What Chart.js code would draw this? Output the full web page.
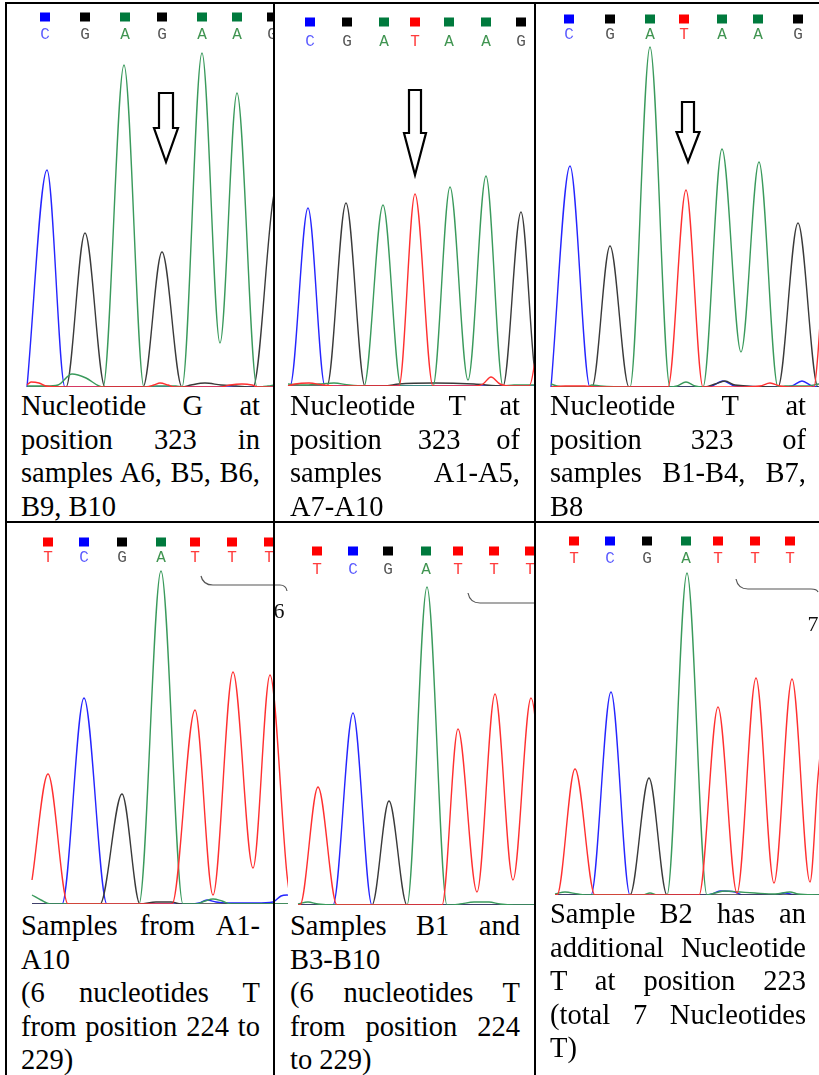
<!DOCTYPE html>
<html>
<head>
<meta charset="utf-8">
<script src="https://cdn.jsdelivr.net/npm/chart.js@4/dist/chart.umd.min.js"></script>
<style>
  html, body { margin: 0; padding: 0; background: #fff; }
  #page { position: relative; width: 819px; height: 1075px; overflow: hidden; }
  canvas { position: absolute; }
  .rule { position: absolute; background: #000; z-index: 3; }
  .cap { position: absolute; font-family: 'Liberation Serif', 'Times New Roman', serif; font-size: 28.5px; line-height: 33.5px; color: #000; z-index: 2; }
  .cap div { text-align: justify; text-align-last: justify; white-space: nowrap; }
  .cap div.end { text-align-last: left; }
</style>
</head>
<body>
<div id="page"></div>
<script>
// base calls (letters) and where they sit along the scan axis
const t1Calls = ['C', 'G', 'A', 'G', 'A', 'A', 'G'];
const t1CallPos = [39, 79, 119, 156, 196, 231, 266];
const t2Calls = ['C', 'G', 'A', 'T', 'A', 'A', 'G'];
const t2CallPos = [36, 73, 110, 141, 175, 212, 247];
const t3Calls = ['C', 'G', 'A', 'T', 'A', 'A', 'G'];
const t3CallPos = [34, 75, 115, 149, 187, 223, 263];
const b1Calls = ['T', 'C', 'G', 'A', 'T', 'T', 'T'];
const b1CallPos = [42, 78, 116, 155, 189, 226, 263];
const b2Calls = ['T', 'C', 'G', 'A', 'T', 'T', 'T'];
const b2CallPos = [43, 79, 114, 152, 184, 220, 256];
const b3Calls = ['T', 'C', 'G', 'A', 'T', 'T', 'T'];
const b3CallPos = [39, 75, 112, 151, 183, 220, 255];

// T-run lengths marked with a brace (samples A1-A10, B1/B3-B10, B2)
const tRunCounts = [6, 6, 7];

// traces: [scan, signal]
const t1A = [[21, 1], [40, 1], [52, 2], [66, 13], [80, 9], [93, 1], [97, 0], [118, 322], [138, 0], [150, 1], [170, 1], [176, 0], [196, 334], [214, 44], [231, 294], [251, 0], [262, 1], [268, 2]];
const t1C = [[21, 0], [41, 217], [59, 0], [120, 0], [268, 0]];
const t1G = [[21, 0], [60, 0], [79, 154], [99, 0], [137, 0], [156, 135], [176, 0], [185, 2], [199, 4], [215, 2], [230, 1], [247, 0], [267, 187], [280, 230]];
const t1T = [[21, 2], [25, 5], [33, 4], [40, 1], [60, 0], [140, 0], [148, 2], [154, 4], [162, 2], [168, 0], [215, 0], [224, 2], [236, 3], [246, 2], [252, 0], [268, 0]];

const t2A = [[14, 2], [30, 1], [45, 2], [60, 3], [75, 1], [90, 0], [109, 181], [127, 0], [159, 0], [176, 199], [194, 6], [212, 210], [229, 0], [240, 1], [261, 1]];
const t2C = [[14, 0], [16, 0], [34, 178], [51, 0], [70, 0], [200, 0], [261, 0]];
const t2G = [[14, 0], [53, 0], [72, 183], [91, 0], [110, 0], [125, 2], [160, 3], [200, 2], [229, 0], [247, 174], [261, 13], [267, 0]];
const t2T = [[14, 0], [21, 2], [35, 3], [49, 1], [60, 0], [125, 0], [141, 192], [159, 0], [200, 0], [209, 2], [217, 9], [226, 2], [235, 0], [255, 0], [261, 26], [270, 120]];

const t3A = [[16, 3], [22, 1], [40, 0], [52, 0], [57, 2], [65, 1], [95, 0], [115, 340], [135, 0], [142, 1], [151, 5], [160, 1], [168, 0], [187, 238], [206, 35], [224, 225], [243, 0], [250, 1], [270, 1], [284, 3]];
const t3C = [[16, 0], [35, 221], [55, 0], [170, 0], [177, 1], [188, 6], [200, 1], [250, 0], [257, 1], [267, 6], [277, 1], [284, 0]];
const t3G = [[16, 0], [57, 0], [75, 141], [94, 0], [170, 0], [180, 3], [190, 6], [200, 2], [243, 0], [263, 164], [283, 0], [290, 0]];
const t3T = [[16, 0], [30, 1], [50, 1], [60, 0], [133, 0], [151, 197], [168, 0], [200, 0], [225, 1], [235, 4], [245, 1], [255, 0], [279, 0], [283, 34], [290, 150]];

const b1A = [[26, 9], [35, 4], [44, 0], [133, 0], [155, 333], [177, 0], [190, 0], [199, 3], [207, 5], [216, 3], [225, 0], [284, 0]];
const b1C = [[26, 0], [56, 0], [78, 206], [101, 0], [150, 0], [185, 0], [193, 1], [201, 4], [210, 2], [220, 1], [250, 1], [267, 2], [275, 8], [281, 9], [290, 5]];
const b1G = [[26, 0], [94, 0], [116, 110], [134, 0], [150, 2], [165, 2], [175, 0], [284, 0]];
const b1T = [[26, 24], [42, 130], [62, 0], [100, 0], [166, 0], [189, 194], [207, 9], [227, 232], [247, 36], [264, 229], [281, 29], [285, 0]];

const b2A = [[24, 1], [34, 3], [44, 1], [60, 0], [133, 0], [153, 318], [173, 0], [186, 1], [200, 3], [215, 3], [226, 1], [240, 0], [261, 0]];
const b2C = [[24, 0], [59, 0], [79, 192], [98, 0], [140, 0], [261, 0]];
const b2G = [[24, 0], [98, 0], [115, 104], [133, 0], [261, 0]];
const b2T = [[24, 0], [26, 0], [44, 118], [63, 0], [100, 0], [168, 0], [184, 176], [203, 13], [221, 211], [239, 25], [257, 207], [275, 0]];

const b3A = [[20, 1], [30, 3], [43, 1], [55, 0], [108, 0], [115, 2], [122, 0], [132, 0], [152, 322], [172, 0], [180, 2], [190, 4], [205, 3], [220, 2], [240, 1], [255, 3], [263, 1], [284, 0]];
const b3C = [[20, 0], [56, 0], [76, 203], [95, 0], [170, 0], [177, 1], [185, 4], [200, 3], [207, 0], [240, 0], [250, 2], [260, 0], [284, 0]];
const b3G = [[20, 0], [95, 0], [114, 117], [132, 0], [284, 0]];
const b3T = [[20, 0], [22, 0], [40, 126], [60, 0], [100, 0], [164, 0], [183, 188], [202, 2], [221, 217], [239, 12], [257, 216], [275, 13], [283, 118], [293, 215]];

const traceColor = { A: '#3a9a5c', C: '#2525ff', G: '#3a3a3a', T: '#ff3030' };
const callFill = { A: '#007a3d', C: '#0000ff', G: '#000000', T: '#ff0000' };
const callText = { A: '#3f9450', C: '#5a5aff', G: '#555555', T: '#ff3c3c' };

const panels = [
  { left: 6, top: 4, width: 268, baseline: 387, chartTop: 45, squareY: 17, letterY: 35,
    calls: t1Calls, callPos: t1CallPos, traces: { A: t1A, C: t1C, G: t1G, T: t1T },
    arrow: { at: 160, top: 93, neck: 128, tip: 162, shaft: 7, head: 12 } },
  { left: 274, top: 4, width: 261, baseline: 386, chartTop: 45, squareY: 22, letterY: 42,
    calls: t2Calls, callPos: t2CallPos, traces: { A: t2A, C: t2C, G: t2G, T: t2T },
    arrow: { at: 141, top: 90, neck: 133, tip: 175, shaft: 6, head: 11 } },
  { left: 535, top: 4, width: 284, baseline: 387, chartTop: 45, squareY: 19, letterY: 35,
    calls: t3Calls, callPos: t3CallPos, traces: { A: t3A, C: t3C, G: t3G, T: t3T },
    arrow: { at: 153, top: 102, neck: 132, tip: 162, shaft: 6, head: 11.5 } },
  { left: 6, top: 523, width: 282, baseline: 904, chartTop: 565, squareY: 542, letterY: 558,
    calls: b1Calls, callPos: b1CallPos, traces: { A: b1A, C: b1C, G: b1G, T: b1T },
    brace: { from: 195, to: 281, top: 576, line: 585, end: 591, label: tRunCounts[0], labelAt: 273, labelY: 612 } },
  { left: 274, top: 523, width: 261, baseline: 905, chartTop: 565, squareY: 551, letterY: 570,
    calls: b2Calls, callPos: b2CallPos, traces: { A: b2A, C: b2C, G: b2G, T: b2T },
    brace: { from: 194, to: 282, top: 593, line: 603, end: 609, label: null } },
  { left: 535, top: 523, width: 284, baseline: 895, chartTop: 565, squareY: 541, letterY: 559,
    calls: b3Calls, callPos: b3CallPos, traces: { A: b3A, C: b3C, G: b3G, T: b3T },
    brace: { from: 201, to: 283, top: 579, line: 589, end: 592, label: tRunCounts[2], labelAt: 278, labelY: 625 } }
];

const captions = [
  { left: 21, top: 389, width: 239, lines: ['Nucleotide G at', 'position 323 in', 'samples A6, B5, B6,', '|B9, B10'] },
  { left: 290, top: 389, width: 230, lines: ['Nucleotide T at', 'position 323 of', 'samples A1-A5,', '|A7-A10'] },
  { left: 550, top: 389, width: 256, lines: ['Nucleotide T at', 'position 323 of', 'samples B1-B4, B7,', '|B8'] },
  { left: 21, top: 909, width: 239, lines: ['Samples from A1-', '|A10', '(6 nucleotides T', 'from position 224 to', '|229)'] },
  { left: 290, top: 909, width: 230, lines: ['Samples B1 and', '|B3-B10', '(6 nucleotides T', 'from position 224', '|to 229)'] },
  { left: 550, top: 897, width: 256, lines: ['Sample B2 has an', 'additional Nucleotide', 'T at position 223', '(total 7 Nucleotides', '|T)'] }
];

const page = document.getElementById('page');

function marks(p) {
  return {
    id: 'marks',
    afterDatasetsDraw(chart) {
      const ctx = chart.ctx;
      const xs = chart.scales.x;
      ctx.save();
      // base call squares and letters
      ctx.font = '16px "Liberation Mono", "Courier New", monospace';
      ctx.textAlign = 'center';
      ctx.textBaseline = 'middle';
      p.calls.forEach((b, i) => {
        const x = Math.round(xs.getPixelForValue(p.callPos[i]));
        ctx.fillStyle = callFill[b];
        ctx.fillRect(x - 5, p.squareY - p.top - 4.5, 10, 9);
        ctx.fillStyle = callText[b];
        ctx.fillText(b, x, p.letterY - p.top);
      });
      if (p.arrow) {
        const a = p.arrow;
        const x = xs.getPixelForValue(a.at);
        const y0 = a.top - p.top, y1 = a.neck - p.top, y2 = a.tip - p.top;
        ctx.beginPath();
        ctx.moveTo(x - a.shaft, y0);
        ctx.lineTo(x + a.shaft, y0);
        ctx.lineTo(x + a.shaft, y1);
        ctx.lineTo(x + a.head, y1);
        ctx.lineTo(x, y2);
        ctx.lineTo(x - a.head, y1);
        ctx.lineTo(x - a.shaft, y1);
        ctx.closePath();
        ctx.fillStyle = '#fff';
        ctx.fill();
        ctx.lineWidth = 2.2;
        ctx.lineJoin = 'miter';
        ctx.strokeStyle = '#000';
        ctx.stroke();
      }
      if (p.brace) {
        const br = p.brace;
        const x0 = xs.getPixelForValue(br.from), x1 = xs.getPixelForValue(br.to);
        const yt = br.top - p.top, yl = br.line - p.top, ye = br.end - p.top;
        ctx.beginPath();
        ctx.moveTo(x0, yt);
        ctx.quadraticCurveTo(x0 + 2, yl, x0 + 12, yl);
        ctx.lineTo(x1 - 7, yl);
        ctx.quadraticCurveTo(x1 - 1, yl, x1, ye);
        ctx.lineWidth = 1.2;
        ctx.strokeStyle = '#555';
        ctx.stroke();
        if (br.label !== null) {
          ctx.font = '22px "Liberation Serif", "Times New Roman", serif';
          ctx.fillStyle = '#111';
          ctx.fillText(String(br.label), xs.getPixelForValue(br.labelAt), br.labelY - p.top);
        }
      }
      ctx.restore();
    }
  };
}

panels.forEach(p => {
  const cv = document.createElement('canvas');
  const h = p.baseline + 2 - p.top;
  cv.width = p.width;
  cv.height = h;
  cv.style.left = p.left + 'px';
  cv.style.top = p.top + 'px';
  page.appendChild(cv);
  new Chart(cv, {
    type: 'line',
    data: {
      datasets: ['T', 'A', 'G', 'C'].map(b => ({
        label: b,
        data: p.traces[b],
        borderColor: traceColor[b],
        borderWidth: 1.4,
        pointRadius: 0,
        fill: false,
        cubicInterpolationMode: 'monotone'
      }))
    },
    options: {
      responsive: false,
      animation: false,
      events: [],
      layout: { padding: { top: p.chartTop - p.top, bottom: 2, left: 0, right: 0 } },
      scales: {
        x: { type: 'linear', display: false, min: 0, max: p.width },
        y: { display: false, min: 0, max: p.baseline - p.chartTop }
      },
      plugins: { legend: { display: false }, tooltip: { enabled: false } }
    },
    plugins: [marks(p)]
  });
});

captions.forEach(c => {
  const box = document.createElement('div');
  box.className = 'cap';
  box.style.left = c.left + 'px';
  box.style.top = c.top + 'px';
  box.style.width = c.width + 'px';
  c.lines.forEach(l => {
    const d = document.createElement('div');
    if (l[0] === '|') { d.className = 'end'; l = l.slice(1); }
    d.textContent = l;
    box.appendChild(d);
  });
  page.appendChild(box);
});

// table rules
[[5, 2, 814, 2], [5, 2, 2, 1073], [273, 2, 2, 1073], [534, 2, 2, 1073], [5, 521, 814, 2]].forEach(r => {
  const d = document.createElement('div');
  d.className = 'rule';
  d.style.left = r[0] + 'px';
  d.style.top = r[1] + 'px';
  d.style.width = r[2] + 'px';
  d.style.height = r[3] + 'px';
  page.appendChild(d);
});
</script>
</body>
</html>
